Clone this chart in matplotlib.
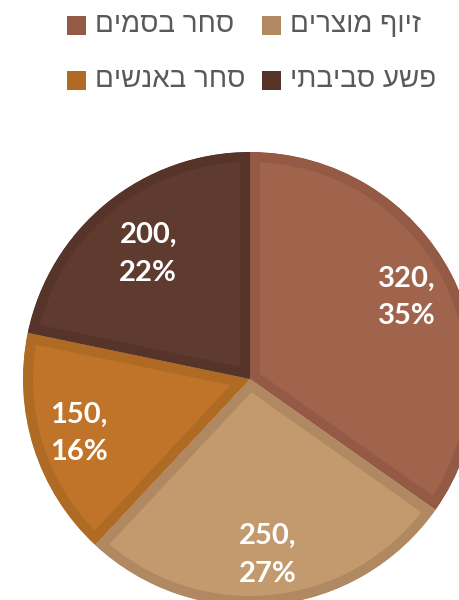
import numpy as np
import matplotlib.pyplot as plt
from matplotlib.patches import Rectangle

# data, in series order (pie goes clockwise from 12 o'clock)
categories = ['סחר בסמים', 'זיוף מוצרים', 'סחר באנשים', 'פשע סביבתי']
values = [320, 250, 150, 200]
fill_colors = ['#A0634C', '#C39A6D', '#C07429', '#5F3A2E']
edge_colors = ['#955A46', '#B08861', '#AF6B24', '#56342A']
# how far out each data label sits (fraction of radius), as in the original
label_dist = [0.78, 0.78, 0.79, 0.71]


def rtl(s):
    # matplotlib has no bidi support, so flip Hebrew by hand
    return s[::-1]


W, H = 459, 600
fig = plt.figure(figsize=(W / 100, H / 100), dpi=100)

# pie centre and radius in pixels; it runs off the right and bottom edges
cx, cy, r = 250, 379, 227
ax = fig.add_axes([(cx - r) / W, (H - cy - r) / H, 2 * r / W, 2 * r / H])

total = sum(values)
wedges, _, autotexts = ax.pie(
    values, colors=fill_colors, startangle=90, counterclock=False,
    autopct=lambda p: f'{p * total / 100:.0f},\n{p:.0f}%', pctdistance=0.78,
    textprops=dict(color='white', fontsize=21, fontweight='bold', family='Lato'))

# inner border: wide edge clipped to the wedge itself
for w, ec in zip(wedges, edge_colors):
    w.set_edgecolor(ec)
    w.set_linewidth(14.4)
    w.set_clip_path(w)
    w.set_clip_on(True)

for w, t, d in zip(wedges, autotexts, label_dist):
    mid = np.deg2rad((w.theta1 + w.theta2) / 2)
    t.set_position((d * np.cos(mid), d * np.sin(mid)))
    t.set_linespacing(1.55)

ax.set_xlim(-1, 1)
ax.set_ylim(-1, 1)

# legend, two columns, laid out by hand
leg_x = [67, 262]
leg_y = [25, 80]
for i, (lab, c) in enumerate(zip(categories, edge_colors)):
    x = leg_x[i % 2]
    y = leg_y[i // 2]
    fig.patches.append(Rectangle((x / W, 1 - (y + 9.5) / H), 19 / W, 19 / H,
                                 transform=fig.transFigure, facecolor=c, edgecolor='none'))
    fig.text((x + 28) / W, 1 - y / H, rtl(lab), fontsize=20, color='#595959',
             va='center', family='Liberation Sans')

fig.savefig('out.png', dpi=100)
